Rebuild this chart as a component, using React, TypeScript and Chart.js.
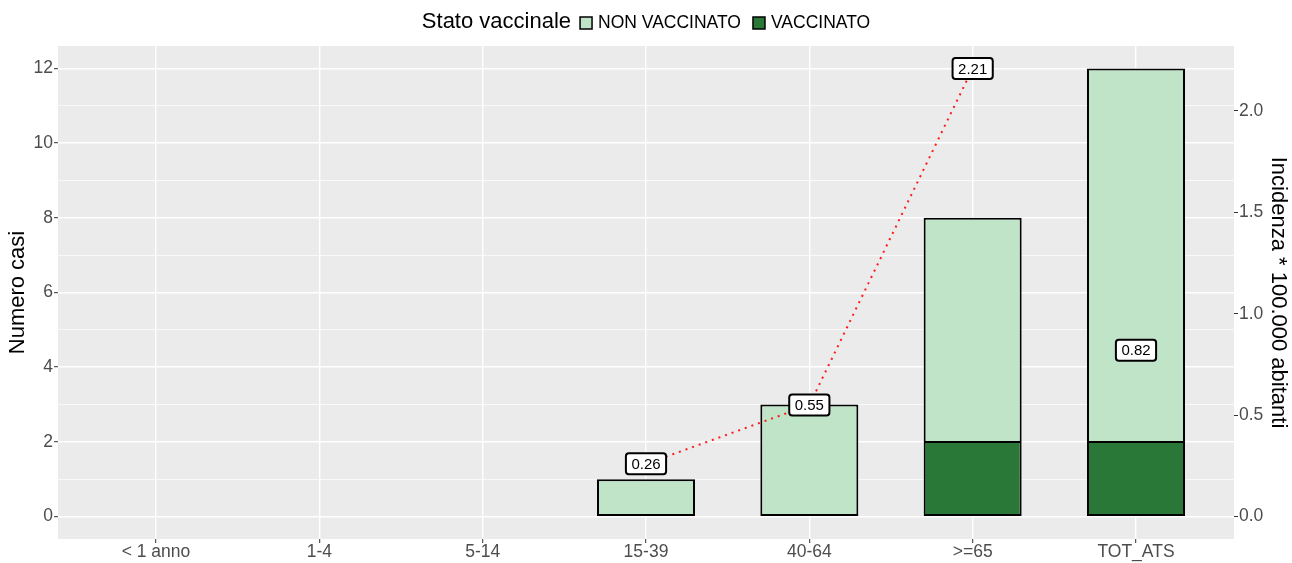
import React, { useEffect, useRef } from 'react';
import { Chart, registerables } from 'chart.js';

Chart.register(...registerables);

const categories = ['< 1 anno', '1-4', '5-14', '15-39', '40-64', '>=65', 'TOT_ATS'];
const vaccinati = [0, 0, 0, 0, 0, 2, 2];
const nonVaccinati = [0, 0, 0, 1, 3, 6, 10];
const incidenza: (number | null)[] = [null, null, null, 0.26, 0.55, 2.21, null];
const incidenzaTot: (number | null)[] = [null, null, null, null, null, null, 0.82];

const legendTitle = 'Stato vaccinale';
const seriesNames = ['NON VACCINATO', 'VACCINATO'];
const yTitle = 'Numero casi';
const y2Title = 'Incidenza * 100.000 abitanti';

const CASI_MAX = 12;
const INC_MAX = 2.21;
const SEC = CASI_MAX / INC_MAX;
const EXP = CASI_MAX * 0.05;

const FONT = '"Liberation Sans", Arial, sans-serif';
const LIGHT = '#BFE4C7';
const DARK = '#2A7838';

const panelBg = {
  id: 'panelBg',
  beforeDraw(chart: any) {
    const { ctx, chartArea: a } = chart;
    ctx.save();
    ctx.fillStyle = '#EBEBEB';
    ctx.fillRect(a.left, a.top, a.right - a.left, a.bottom - a.top);
    ctx.restore();
  },
};

const valueLabels = {
  id: 'valueLabels',
  afterDatasetsDraw(chart: any) {
    const { ctx } = chart;
    chart.data.datasets.forEach((ds: any, di: number) => {
      if (ds.type !== 'line') return;
      const meta = chart.getDatasetMeta(di);
      meta.data.forEach((pt: any, i: number) => {
        const v = ds.data[i].y;
        if (v === null || v === undefined) return;
        const text = v.toFixed(2);
        ctx.save();
        ctx.font = `15px ${FONT}`;
        const w = ctx.measureText(text).width + 11;
        const h = 21;
        ctx.beginPath();
        ctx.roundRect(pt.x - w / 2, pt.y - h / 2, w, h, 3);
        ctx.fillStyle = '#FFFFFF';
        ctx.fill();
        ctx.lineWidth = 2;
        ctx.strokeStyle = '#000000';
        ctx.stroke();
        ctx.fillStyle = '#000000';
        ctx.textAlign = 'center';
        ctx.textBaseline = 'middle';
        ctx.fillText(text, pt.x, pt.y + 1);
        ctx.restore();
      });
    });
  },
};

const topLegend = {
  id: 'topLegend',
  afterDraw(chart: any) {
    const { ctx, width } = chart;
    ctx.save();
    const box = 12;
    const cy = 22;
    ctx.font = `22px ${FONT}`;
    const tw = ctx.measureText(legendTitle).width;
    ctx.font = `17.5px ${FONT}`;
    const w1 = ctx.measureText(seriesNames[0]).width;
    const w2 = ctx.measureText(seriesNames[1]).width;
    const gTitle = 9, gText = 6, gItem = 12;
    const total = tw + gTitle + box + gText + w1 + gItem + box + gText + w2;
    let x = width / 2 - total / 2;
    ctx.textBaseline = 'middle';
    ctx.textAlign = 'left';
    ctx.fillStyle = '#000';
    ctx.font = `22px ${FONT}`;
    ctx.fillText(legendTitle, x, cy);
    x += tw + gTitle;
    const colors = [LIGHT, DARK];
    const widths = [w1, w2];
    ctx.font = `17.5px ${FONT}`;
    for (let i = 0; i < 2; i++) {
      ctx.fillStyle = colors[i];
      ctx.fillRect(x, cy - box / 2 + 1, box, box);
      ctx.lineWidth = 1.5;
      ctx.strokeStyle = '#000';
      ctx.strokeRect(x, cy - box / 2 + 1, box, box);
      x += box + gText;
      ctx.fillStyle = '#000';
      ctx.fillText(seriesNames[i], x, cy + 1);
      x += widths[i] + gItem;
    }
    ctx.restore();
  },
};

export default function App() {
  const ref = useRef<HTMLCanvasElement>(null);

  useEffect(() => {
    document.body.style.margin = '0';
    Chart.defaults.font.family = FONT;
    const toXY = (arr: (number | null)[]) => arr.map((v, i) => ({ x: i, y: v }));
    const chart = new Chart(ref.current as HTMLCanvasElement, {
      type: 'bar',
      data: {
        datasets: [
          {
            type: 'line',
            label: 'Incidenza',
            data: toXY(incidenza),
            yAxisID: 'y1',
            borderColor: '#FF1A1A',
            borderWidth: 2,
            borderDash: [2, 5],
            pointRadius: 0,
            fill: false,
            spanGaps: false,
            order: 0,
          } as any,
          {
            type: 'line',
            label: 'Incidenza TOT',
            data: toXY(incidenzaTot),
            yAxisID: 'y1',
            showLine: false,
            pointRadius: 0,
            order: 0,
          } as any,
          {
            type: 'bar',
            label: seriesNames[1],
            data: toXY(vaccinati),
            backgroundColor: DARK,
            borderColor: '#000',
            borderWidth: (c: any) => ({
              top: nonVaccinati[c.dataIndex] > 0 ? 1 : 2,
              bottom: 2,
              left: 2,
              right: 2,
            }),
            borderSkipped: false,
            yAxisID: 'y',
            categoryPercentage: 0.6,
            barPercentage: 1,
            order: 1,
          } as any,
          {
            type: 'bar',
            label: seriesNames[0],
            data: toXY(nonVaccinati),
            backgroundColor: LIGHT,
            borderColor: '#000',
            borderWidth: (c: any) => ({
              top: 2,
              bottom: vaccinati[c.dataIndex] > 0 ? 1 : 2,
              left: 2,
              right: 2,
            }),
            borderSkipped: false,
            yAxisID: 'y',
            categoryPercentage: 0.6,
            barPercentage: 1,
            order: 1,
          } as any,
        ],
      },
      options: {
        animation: false,
        responsive: false,
        layout: { padding: { top: 46, left: 0, right: 0, bottom: 0 } },
        plugins: { legend: { display: false }, tooltip: { enabled: false } },
        scales: {
          x: {
            type: 'linear',
            min: -0.6,
            max: categories.length - 1 + 0.6,
            offset: false,
            stacked: true,
            border: { display: false },
            grid: {
              offset: false,
              color: '#FFFFFF',
              lineWidth: 1.4,
              tickLength: 4,
              tickColor: '#333333',
              tickWidth: 1,
            },
            ticks: {
              stepSize: 1,
              includeBounds: false,
              autoSkip: false,
              maxRotation: 0,
              padding: 0,
              color: '#4D4D4D',
              font: { size: 17.5, lineHeight: 1 },
              callback: (v: any) => categories[v] ?? '',
            },
            afterFit: (s: any) => { s.height = 24; },
          } as any,
          y: {
            type: 'linear',
            position: 'left',
            stacked: true,
            min: -EXP,
            max: CASI_MAX + EXP,
            border: { display: false },
            grid: {
              color: '#FFFFFF',
              lineWidth: (c: any) => (c.tick && c.tick.value % 2 === 0 ? 1.4 : 0.7),
              tickLength: 4,
              tickColor: (c: any) => (c.tick && c.tick.value % 2 === 0 ? '#333333' : 'rgba(0,0,0,0)'),
              tickWidth: 1,
            },
            ticks: {
              stepSize: 1,
              includeBounds: false,
              autoSkip: false,
              maxTicksLimit: 40,
              padding: 1,
              color: '#4D4D4D',
              font: { size: 17.5 },
              callback: (v: any) => (v % 2 === 0 ? String(v) : ''),
            },
            title: {
              display: true,
              text: yTitle,
              color: '#000',
              font: { size: 22 },
              padding: { top: 5, bottom: 0 },
            },
            afterFit: (s: any) => { s.width = 58; },
          } as any,
          y1: {
            type: 'linear',
            position: 'right',
            min: -EXP / SEC,
            max: (CASI_MAX + EXP) / SEC,
            border: { display: false },
            grid: {
              drawOnChartArea: false,
              tickLength: 4,
              tickColor: '#333333',
              tickWidth: 1,
            },
            ticks: {
              stepSize: 0.5,
              includeBounds: false,
              autoSkip: false,
              padding: 1,
              color: '#4D4D4D',
              font: { size: 17.5 },
              callback: (v: any) => Number(v).toFixed(1),
            },
            title: {
              display: true,
              text: y2Title,
              color: '#000',
              font: { size: 22 },
              padding: { top: 1, bottom: 0 },
            },
            afterFit: (s: any) => { s.width = 58; },
          } as any,
        },
      },
      plugins: [panelBg, valueLabels, topLegend],
    });
    return () => chart.destroy();
  }, []);

  return (
    <div style={{ width: 1292, height: 563 }}>
      <canvas ref={ref} width={1292} height={563} />
    </div>
  );
}
